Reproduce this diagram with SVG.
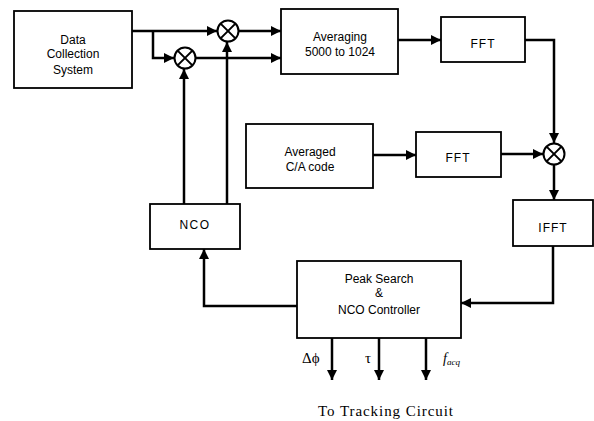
<svg xmlns="http://www.w3.org/2000/svg" width="594" height="421" viewBox="0 0 594 421">
<defs>
<marker id="ah" viewBox="0 0 10 10" refX="10" refY="5" markerWidth="4.4" markerHeight="4" markerUnits="strokeWidth" orient="auto">
<path d="M0,0 L10,5 L0,10 Z" fill="#000"/>
</marker>
</defs>
<style>
.box{fill:#fff;stroke:#000;stroke-width:1.8}
.lbl{font-family:"Liberation Sans",Arial,sans-serif;font-size:12px;fill:#000;text-anchor:middle}
.mix circle{fill:#fff;stroke:#000;stroke-width:2}
.mix path{stroke:#000;stroke-width:2}
.wire{fill:none;stroke:#000;stroke-width:2.5}
.arr{fill:none;stroke:#000;stroke-width:2.5;marker-end:url(#ah)}
.tm{font-family:"Liberation Serif","Times New Roman",serif;fill:#000}
</style>
<rect width="594" height="421" fill="#fff"/>
<g id="connectors">
<path class="arr" d="M132,31 H217"/>
<path class="wire" d="M153,31 V58 H160"/>
<path class="arr" d="M160,58 H174"/>
<path class="arr" d="M239,31 H281"/>
<path class="arr" d="M196,58 H281"/>
<path class="arr" d="M398,40 H441"/>
<path class="wire" d="M525,40 H554 V130"/>
<path class="arr" d="M554,130 V143"/>
<path class="arr" d="M373,155 H416"/>
<path class="arr" d="M501,154 H543"/>
<path class="arr" d="M554,164 V200"/>
<path class="wire" d="M553,246 V303 H475"/>
<path class="arr" d="M475,303 H461"/>
<path class="wire" d="M297,306 H204 V265"/>
<path class="arr" d="M204,265 V249"/>
<path class="wire" d="M184,204 V90"/>
<path class="arr" d="M184,90 V69"/>
<path class="wire" d="M227,204 V60"/>
<path class="arr" d="M227,60 V42"/>
<path class="arr" d="M332,338 V380"/>
<path class="arr" d="M379,338 V380"/>
<path class="arr" d="M426,338 V380"/>
</g>
<g id="dcs">
<rect class="box" x="14" y="11" width="118" height="77"/>
<text class="lbl" x="73" y="44">Data</text>
<text class="lbl" x="73" y="58">Collection</text>
<text class="lbl" x="73" y="74">System</text>
</g>
<g id="mixer1" class="mix">
<circle cx="228" cy="31" r="10.5"/>
<path d="M220.6,23.6 L235.4,38.4 M235.4,23.6 L220.6,38.4"/>
</g>
<g id="mixer2" class="mix">
<circle cx="185" cy="58" r="10.5"/>
<path d="M177.6,50.6 L192.4,65.4 M192.4,50.6 L177.6,65.4"/>
</g>
<g id="averaging">
<rect class="box" x="281" y="9" width="117" height="65"/>
<text class="lbl" x="340" y="41">Averaging</text>
<text class="lbl" x="340" y="56">5000 to 1024</text>
</g>
<g id="fft1">
<rect class="box" x="441" y="17" width="84" height="45"/>
<text class="lbl" x="483" y="48" letter-spacing="1">FFT</text>
</g>
<g id="ca">
<rect class="box" x="246" y="124" width="127" height="64"/>
<text class="lbl" x="310" y="156">Averaged</text>
<text class="lbl" x="310" y="171">C/A code</text>
</g>
<g id="fft2">
<rect class="box" x="416" y="132" width="85" height="45"/>
<text class="lbl" x="458" y="162" letter-spacing="1">FFT</text>
</g>
<g id="mixer3" class="mix">
<circle cx="554" cy="154" r="10.5"/>
<path d="M546.6,146.6 L561.4,161.4 M561.4,146.6 L546.6,161.4"/>
</g>
<g id="ifft">
<rect class="box" x="513" y="200" width="80" height="46"/>
<text class="lbl" x="553" y="232" letter-spacing="1">IFFT</text>
</g>
<g id="nco">
<rect class="box" x="150" y="204" width="90" height="45"/>
<text class="lbl" x="195" y="229" font-size="14" letter-spacing="1.5">NCO</text>
</g>
<g id="peak">
<rect class="box" x="297" y="261" width="164" height="77"/>
<text class="lbl" x="379" y="283">Peak Search</text>
<text class="lbl" x="379" y="297">&amp;</text>
<text class="lbl" x="379" y="314">NCO Controller</text>
</g>
<g id="outputs">
<text class="tm" x="302" y="363" font-size="15">Δϕ</text>
<text class="tm" x="365" y="363" font-size="15">τ</text>
<text class="tm" x="443" y="363" font-size="14" font-style="italic">f<tspan font-size="9" dy="2">acq</tspan></text>
<text class="tm" x="318" y="416" font-size="15" textLength="135" lengthAdjust="spacing">To Tracking Circuit</text>
</g>
</svg>
